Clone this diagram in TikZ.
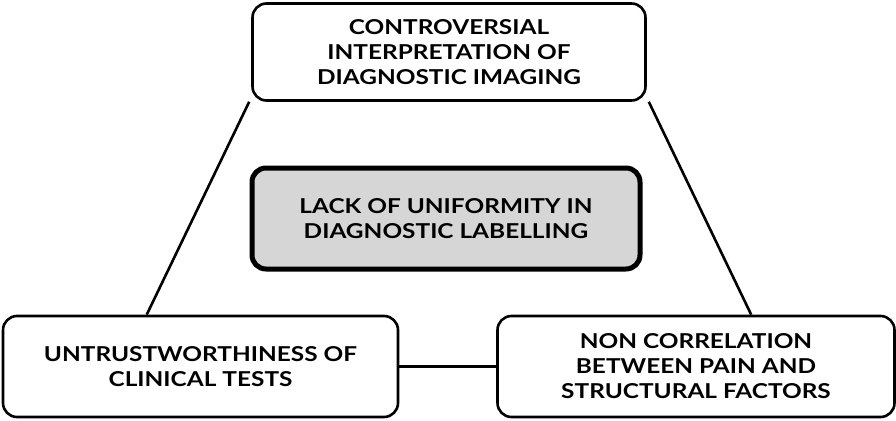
\documentclass[tikz,border=0pt]{standalone}
\usepackage{fontspec}
\setmainfont{Lato}[FakeStretch=1.19]
\usetikzlibrary{calc}
\begin{document}
\begin{tikzpicture}[x=1pt,y=-1pt,
  box/.style={draw=black,line width=2.6pt,rounded corners=14pt,fill=white,align=center,
    font=\bfseries\fontsize{20.5}{25}\selectfont,inner sep=0pt},
  mainbox/.style={box,line width=5pt,fill=black!16},
  link/.style={line width=2.6pt}]
\useasboundingbox (0,0) rectangle (896,420);
\node[box,minimum width=393pt,minimum height=97pt] (top) at (449,52) {CONTROVERSIAL\\INTERPRETATION OF\\DIAGNOSTIC IMAGING};
\node[mainbox,minimum width=388pt,minimum height=101pt] (mid) at (446,218.5) {LACK OF UNIFORMITY IN\\DIAGNOSTIC LABELLING};
\node[box,minimum width=395pt,minimum height=101pt] (bl) at (200.5,366.5) {UNTRUSTWORTHINESS OF\\CLINICAL TESTS};
\node[box,minimum width=397pt,minimum height=101pt] (br) at (696,366.5) {NON CORRELATION\\BETWEEN PAIN AND\\STRUCTURAL FACTORS};
\draw[link] ($(top.south west)+(-2,0)$) -- ($(bl.north west)+(145,0)$);
\draw[link] ($(top.south east)+(2,0)$) -- ($(br.north west)+(255,0)$);
\draw[link] (bl.east) -- (br.west);
\end{tikzpicture}
\end{document}
